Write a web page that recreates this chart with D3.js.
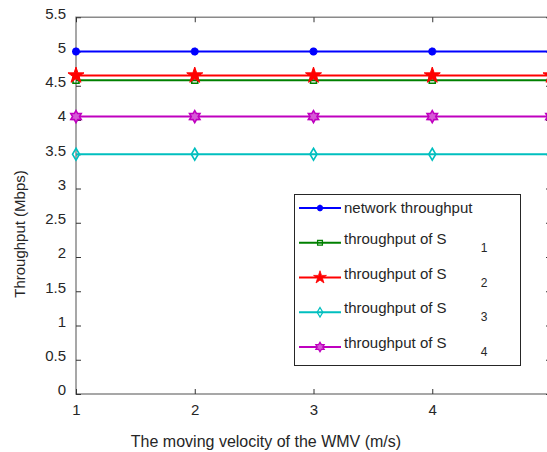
<!DOCTYPE html>
<html>
<head>
<meta charset="utf-8">
<script src="https://cdn.jsdelivr.net/npm/d3@7"></script>
<style>
  body { margin: 0; background: #fff; }
  text { font-family: "Liberation Sans", Arial, sans-serif; fill: #262626; }
</style>
</head>
<body>
<script>
// chart data
const velocity = [1, 2, 3, 4, 5];
const networkThroughput = [5, 5, 5, 5, 5];
const throughputS1 = [4.58, 4.58, 4.58, 4.58, 4.58];
const throughputS2 = [4.65, 4.65, 4.65, 4.65, 4.65];
const throughputS3 = [3.5, 3.5, 3.5, 3.5, 3.5];
const throughputS4 = [4.05, 4.05, 4.05, 4.05, 4.05];
const seriesNames = ["network throughput", "throughput of S", "throughput of S", "throughput of S", "throughput of S"];
const seriesSubs = ["", "1", "2", "3", "4"];
const yTicks = [0, 0.5, 1, 1.5, 2, 2.5, 3, 3.5, 4, 4.5, 5, 5.5];
const xTicks = [1, 2, 3, 4, 5];

const W = 547, H = 452;
const svg = d3.select("body").append("svg")
  .attr("width", W).attr("height", H);

const x = d3.scaleLinear().domain([1, 5]).range([76, 551]);
const y = d3.scaleLinear().domain([0, 5.5]).range([394, 17.25]);

// custom marker shapes
function asterisk(r) {
  const p = d3.path();
  for (let a = 0; a < 4; a++) {
    const t = a * Math.PI / 4;
    p.moveTo(-r * Math.cos(t), -r * Math.sin(t));
    p.lineTo(r * Math.cos(t), r * Math.sin(t));
  }
  return p.toString();
}
function hexagram(r) {
  let s = "";
  for (let k = 0; k < 12; k++) {
    const rr = k % 2 === 0 ? r : r * 0.58;
    const t = -Math.PI / 2 + k * Math.PI / 6;
    s += (k === 0 ? "M" : "L") + (rr * Math.cos(t)).toFixed(2) + "," + (rr * Math.sin(t)).toFixed(2);
  }
  return s + "Z";
}

const series = [
  { vals: networkThroughput, color: "#0000ff", marker: asterisk(4), fill: "none", sw: 2.5 },
  { vals: throughputS1, color: "#008000", marker: d3.symbol(d3.symbolSquare, 36)(), fill: "none", sw: 1.6 },
  { vals: throughputS2, color: "#ff0000", marker: d3.symbol(d3.symbolStar, 80)(), fill: "#ff0000", sw: 1 },
  { vals: throughputS3, color: "#00bfbf", marker: "M0,-6L3.5,0L0,6L-3.5,0Z", fill: "none", sw: 1.6 },
  { vals: throughputS4, color: "#bf00bf", marker: hexagram(6), fill: "#d65ad6", sw: 1.6 }
];

// frame
const frame = svg.append("g");
frame.append("rect")
  .attr("x", x(1)).attr("y", y(5.5))
  .attr("width", x(5) - x(1)).attr("height", y(0) - y(5.5))
  .attr("fill", "none").attr("stroke", "#8a8a8a").attr("stroke-width", 1.5);

function styleAxis(g) {
  g.select(".domain").remove();
  g.selectAll(".tick line").attr("stroke", "#333").attr("stroke-width", 1);
}

// axes with inward ticks
svg.append("g").attr("transform", `translate(${x(1)},0)`)
  .call(d3.axisLeft(y).tickValues(yTicks).tickSize(-5).tickPadding(10).tickFormat(d3.format("")))
  .call(styleAxis)
  .call(g => g.selectAll(".tick text").attr("font-size", 15).attr("dy", "0.05em").attr("fill", "#262626"));

svg.append("g").attr("transform", `translate(${x(5)},0)`)
  .call(d3.axisRight(y).tickValues(yTicks).tickSize(-5).tickFormat(""))
  .call(styleAxis);

svg.append("g").attr("transform", `translate(0,${y(0)})`)
  .call(d3.axisBottom(x).tickValues(xTicks).tickSize(-5).tickPadding(10).tickFormat(d3.format("d")))
  .call(styleAxis)
  .call(g => g.selectAll(".tick text").attr("font-size", 15).attr("fill", "#262626"));

svg.append("g").attr("transform", `translate(0,${y(5.5)})`)
  .call(d3.axisTop(x).tickValues(xTicks).tickSize(-5).tickFormat(""))
  .call(styleAxis);

// series lines and markers
const line = d3.line().x((d, i) => x(velocity[i])).y(d => y(d));
series.forEach(s => {
  const g = svg.append("g");
  g.append("path").datum(s.vals)
    .attr("d", line).attr("fill", "none")
    .attr("stroke", s.color).attr("stroke-width", 2);
  g.selectAll("path.m").data(s.vals).enter().append("path")
    .attr("class", "m")
    .attr("transform", (d, i) => `translate(${x(velocity[i])},${y(d)})`)
    .attr("d", s.marker)
    .attr("fill", s.fill).attr("stroke", s.color).attr("stroke-width", s.sw);
});

// axis titles
svg.append("text")
  .attr("x", 266).attr("y", 447)
  .attr("text-anchor", "middle").attr("font-size", 16)
  .text("The moving velocity of the WMV (m/s)");

svg.append("text")
  .attr("transform", "translate(25,234) rotate(-90)")
  .attr("text-anchor", "middle").attr("font-size", 15)
  .text("Throughput (Mbps)");

// legend
const lg = svg.append("g");
lg.append("rect")
  .attr("x", 294.5).attr("y", 194.5).attr("width", 226).attr("height", 171)
  .attr("fill", "#fff").attr("stroke", "#262626").attr("stroke-width", 1);

const legendY = d3.scalePoint().domain(d3.range(series.length)).range([208, 347]);
series.forEach((s, i) => {
  const ly = legendY(i);
  lg.append("line")
    .attr("x1", 299).attr("x2", 341).attr("y1", ly).attr("y2", ly)
    .attr("stroke", s.color).attr("stroke-width", 2);
  lg.append("path")
    .attr("transform", `translate(320,${ly}) scale(0.8)`)
    .attr("d", s.marker)
    .attr("fill", s.fill).attr("stroke", s.color).attr("stroke-width", s.sw);
  lg.append("text")
    .attr("x", 344).attr("y", seriesSubs[i] ? ly + 1 : ly + 5)
    .attr("font-size", 15)
    .text(seriesNames[i]);
  if (seriesSubs[i]) {
    lg.append("text")
      .attr("x", 484).attr("y", ly + 9)
      .attr("text-anchor", "middle").attr("font-size", 12)
      .text(seriesSubs[i]);
  }
});
</script>
</body>
</html>
